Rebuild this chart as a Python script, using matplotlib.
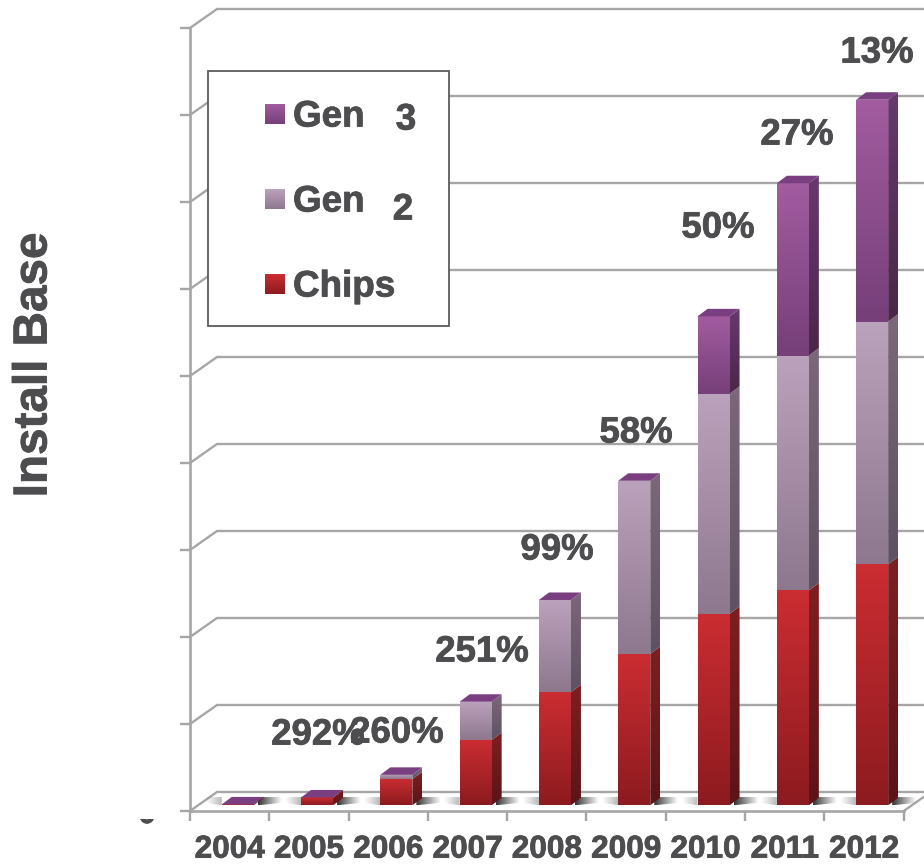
#!/usr/bin/env python3
"""Stacked pseudo-3D install base bars, 2004-2012."""

import numpy as np
import matplotlib
matplotlib.use('Agg')
import matplotlib.pyplot as plt
import matplotlib.patheffects as pe
from matplotlib.colors import to_rgb
from matplotlib.patches import Polygon, Rectangle

plt.rcParams['font.family'] = ['Liberation Sans', 'DejaVu Sans']
plt.rcParams['font.weight'] = 'bold'

years = ['2004', '2005', '2006', '2007', '2008', '2009', '2010', '2011', '2012']
chips = [0.01, 0.09, 0.30, 0.75, 1.30, 1.74, 2.20, 2.47, 2.77]
gen2 = [0.0, 0.0, 0.05, 0.44, 1.06, 1.99, 2.53, 2.70, 2.79]
gen3 = [0.0, 0.0, 0.0, 0.0, 0.0, 0.0, 0.89, 1.98, 2.55]
growth = ['292%', '260%', '251%', '99%', '58%', '50%', '27%', '13%']

TEXT = '#4D4D4F'
GRID = '#A6A6A6'

# front top / front bottom / side top / side bottom
RED = ('#CB2D32', '#8C1B1F', '#7E1F21', '#5C1417')
MAUVE = ('#BBA2BC', '#8D788E', '#7D677A', '#5E5163')
PURPLE = ('#A25C9F', '#763F7A', '#67396F', '#4A2647')
TOP = '#7A3F80'

# pixel geometry of the reference
X0, Y0 = 190, 811
XU, YU = 79.3, 87.0
WALL_DX, WALL_DY = 27 / XU, 19 / YU
BAR_W = 32 / XU
SIDE_DX, SIDE_DY = 10 / XU, 7.5 / YU
FRONT = 0.3


def px(x, y):
    return (x - X0) / XU, (Y0 - y) / YU


def gradient(ax, verts, c_top, c_bot, zorder):
    xs = [v[0] for v in verts]
    ys = [v[1] for v in verts]
    img = np.linspace(to_rgb(c_top), to_rgb(c_bot), 64)[:, None, :]
    im = ax.imshow(img, extent=(min(xs), max(xs), min(ys), max(ys)), aspect='auto',
                   origin='upper', zorder=zorder, interpolation='bilinear')
    im.set_clip_path(Polygon(verts, closed=True, transform=ax.transData))


def shadow(ax, near, far, y0, y1, alpha):
    a = np.zeros((1, 64, 4))
    a[0, :, 3] = np.linspace(alpha, 0, 64)
    if far < near:
        a = a[:, ::-1, :]
    verts = [(near, y0), (far, y0 + (y1 - y0) * 0.3), (far, y1), (near, y1)]
    im = ax.imshow(a, extent=(min(near, far), max(near, far), y0, y1), aspect='auto',
                   zorder=1.5, interpolation='bilinear')
    im.set_clip_path(Polygon(verts, closed=True, transform=ax.transData))


fig = plt.figure(figsize=(9.24, 8.64), dpi=100)
ax = fig.add_axes([X0 / 924, (864 - Y0) / 864, (924 - X0) / 924, 9 * YU / 864])
ax.set_xlim(0, (924 - X0) / XU)
ax.set_ylim(0, 9)

# walls and floor
for lvl in range(10):
    ax.plot([0, WALL_DX, 10], [lvl, lvl + WALL_DY, lvl + WALL_DY], color=GRID, lw=1.7,
            clip_on=False, zorder=1, solid_joinstyle='miter')
ax.plot([9, 9 + WALL_DX], [0, WALL_DY], color=GRID, lw=1.7, clip_on=False, zorder=1)

for s in ('top', 'right'):
    ax.spines[s].set_visible(False)
for s in ('left', 'bottom'):
    ax.spines[s].set_color(GRID)
    ax.spines[s].set_linewidth(1.9)
ax.spines['bottom'].set_bounds(0, 9)

ax.set_yticks(range(10))
ax.set_yticklabels([])
ax.set_xticks(np.arange(len(years)) + 0.5)
ax.set_xticklabels(years, fontsize=22.7, color=TEXT, fontweight='bold')
ax.set_xticks(np.arange(10), minor=True)
ax.tick_params(axis='x', which='major', length=0, pad=17)
ax.tick_params(axis='x', which='minor', length=7.2, width=1.7, color=GRID)
ax.tick_params(axis='y', length=7.2, width=1.7, color=GRID)

ax.set_ylabel('Install Base', fontsize=34.3, color=TEXT, fontweight='bold', va='center')
ax.yaxis.set_label_coords((34 - X0) / (924 - X0), (Y0 - 365) / (9 * YU))

# bars
for i in range(len(years)):
    left = i + 0.5 - BAR_W / 2 + FRONT * WALL_DX
    right = left + BAR_W
    base = FRONT * WALL_DY
    bottom = base
    shadow(ax, right + SIDE_DX * 0.4, right + 28 / XU, base, base + SIDE_DY * 1.1, 0.8)
    shadow(ax, left, left - 16 / XU, base, base + SIDE_DY * 1.1, 0.28)
    for vals, cols in ((chips, RED), (gen2, MAUVE), (gen3, PURPLE)):
        v = vals[i]
        if v <= 0:
            continue
        top = bottom + v
        gradient(ax, [(left, bottom), (right, bottom), (right, top), (left, top)],
                 cols[0], cols[1], 3)
        gradient(ax, [(right, bottom), (right + SIDE_DX, bottom + SIDE_DY),
                      (right + SIDE_DX, top + SIDE_DY), (right, top)], cols[2], cols[3], 3)
        bottom = top
    ax.add_patch(Polygon([(left, bottom), (right, bottom), (right + SIDE_DX, bottom + SIDE_DY),
                          (left + SIDE_DX, bottom + SIDE_DY)], closed=True, fc=TOP, ec='none',
                         zorder=3.2, clip_on=False))

# growth labels
growth_px = [(318, 735), (397, 733), (482, 652), (557, 550), (636, 433), (718, 228),
             (797, 135), (877, 53)]
for label, (x, y) in zip(growth, growth_px):
    gx, gy = px(x, y)
    ax.text(gx, gy, label, fontsize=26.3, color=TEXT, ha='center', va='center', zorder=6,
            clip_on=False)

# legend box
lx0, ly0 = px(208, 326)
lx1, ly1 = px(449, 71)
ax.add_patch(Rectangle((lx0, ly0), lx1 - lx0, ly1 - ly0, fc='white', ec='#5A5A5A', lw=1.3,
                       zorder=4, clip_on=False))
legend_rows = [('Gen', PURPLE, 114), ('Gen', MAUVE, 199), ('Chips', RED, 284)]
for name, cols, y in legend_rows:
    sx0, sy0 = px(265, y + 10)
    sx1, sy1 = px(285, y - 10)
    gradient(ax, [(sx0, sy0), (sx1, sy0), (sx1, sy1), (sx0, sy1)], cols[0], cols[1], 5)
    tx, ty = px(293, y + 3)
    ax.text(tx, ty, name, fontsize=26.5, color=TEXT, ha='left', va='center', zorder=6)
for num, x, y in (('3', 406, 120), ('2', 403, 210)):
    tx, ty = px(x, y)
    ax.text(tx, ty, num, fontsize=26.5, color=TEXT, ha='center', va='center', zorder=6)

# the clipped zero under the y axis
zx, zy = px(147, 815)
ax.text(zx, zy, '0', fontsize=22.7, color=TEXT, ha='center', va='center', zorder=6, clip_on=False)
cx0, cy0 = px(130, 819)
cx1, cy1 = px(170, 790)
ax.add_patch(Rectangle((cx0, cy0), cx1 - cx0, cy1 - cy0, fc='white', ec='none', zorder=7,
                       clip_on=False))

# the reference text is a little heavier than plain bold
stroke = [pe.withStroke(linewidth=0.6, foreground=TEXT)]
for t in ax.texts + ax.get_xticklabels() + [ax.yaxis.label]:
    t.set_path_effects(stroke)

ax.set_xlim(0, (924 - X0) / XU)
ax.set_ylim(0, 9)
fig.savefig('out.png', dpi=100)
